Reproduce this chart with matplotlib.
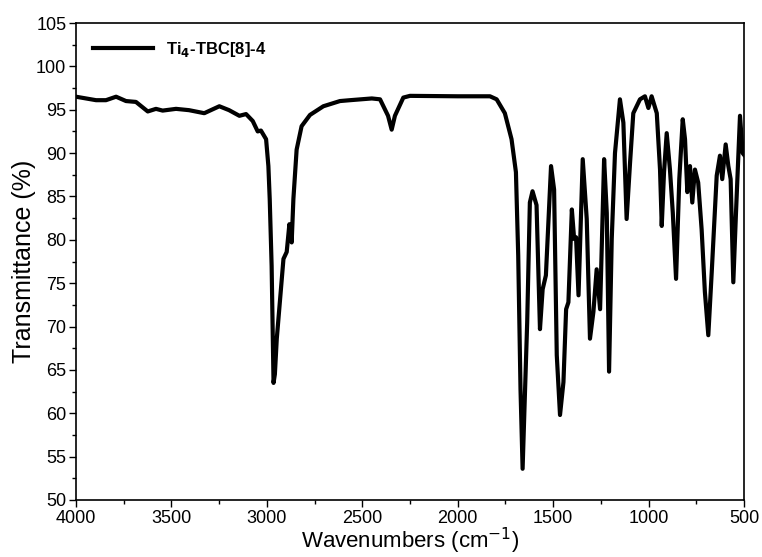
import numpy as np
import matplotlib
matplotlib.use("Agg")
import matplotlib.pyplot as plt

plt.rcParams['font.family'] = ['Liberation Sans', 'DejaVu Sans']

# IR spectrum (wavenumber cm-1, transmittance %)
wavenumber = [4000, 3895, 3843, 3790, 3738, 3686, 3624, 3581, 3546, 3476, 3408,
              3328, 3249, 3198, 3144, 3109, 3074, 3048, 3031, 3004, 2992, 2985,
              2975, 2965, 2958, 2948, 2913, 2896, 2882, 2870, 2861, 2844, 2818,
              2774, 2704, 2617, 2564, 2450, 2407, 2365, 2346, 2329, 2285, 2250,
              2000, 1831, 1796, 1753, 1718, 1695, 1683, 1671, 1660, 1648, 1636,
              1622, 1608, 1587, 1569, 1555, 1538, 1511, 1495, 1481, 1464, 1446,
              1432, 1420, 1402, 1390, 1380, 1367, 1345, 1324, 1307, 1289, 1272,
              1254, 1233, 1219, 1207, 1193, 1176, 1150, 1132, 1115, 1097, 1080,
              1045, 1019, 1001, 984, 957, 940, 931, 919, 905, 888, 873, 856,
              839, 821, 809, 797, 783, 771, 757, 740, 722, 705, 687, 669, 643,
              626, 614, 596, 582, 570, 556, 542, 521, 507, 500]
transmittance = [96.5, 96.1, 96.1, 96.5, 96.0, 95.9, 94.8, 95.1, 94.9, 95.1, 94.95,
                 94.6, 95.4, 94.95, 94.3, 94.5, 93.7, 92.5, 92.6, 91.6, 88.5, 84.7,
                 77.0, 63.5, 64.5, 68.6, 77.8, 78.6, 81.8, 79.7, 84.7, 90.4, 93.1,
                 94.4, 95.4, 96.0, 96.1, 96.3, 96.2, 94.3, 92.7, 94.3, 96.4, 96.6,
                 96.55, 96.55, 96.2, 94.6, 91.6, 87.8, 78.2, 62.8, 53.6, 62.1, 70.5,
                 84.3, 85.6, 84.0, 69.7, 74.3, 75.9, 88.5, 85.8, 66.7, 59.8, 63.6,
                 72.0, 72.8, 83.5, 80.1, 80.3, 73.6, 89.3, 82.4, 68.6, 71.7, 76.6,
                 72.0, 89.3, 83.1, 64.8, 80.1, 90.0, 96.2, 93.5, 82.4, 88.9, 94.6,
                 96.2, 96.55, 95.2, 96.55, 94.6, 88.1, 81.6, 87.8, 92.3, 88.1, 83.1, 75.5,
                 87.0, 93.9, 91.6, 85.5, 88.5, 84.3, 88.1, 86.6, 81.2, 74.0, 69.0, 76.3, 87.4,
                 89.7, 87.0, 91.0, 88.5, 87.0, 75.1, 83.1, 94.3, 90.0, 89.8]

fig = plt.figure(figsize=(7.62, 5.57), dpi=100)
ax = fig.add_axes([76 / 762, 1 - 500 / 557, 668 / 762, 477 / 557])

ax.plot(wavenumber, transmittance, color='black', lw=3.0, solid_joinstyle='round',
        label='Ti$_{\\mathbf{4}}$-TBC[8]-4')

ax.set_xlim(4000, 500)
ax.set_ylim(50, 105)
ax.set_xticks(np.arange(4000, 499, -500))
ax.set_xticks(np.arange(3750, 500, -500), minor=True)
ax.set_yticks(np.arange(50, 106, 5))
ax.set_yticks(np.arange(52.5, 105, 5), minor=True)
ax.tick_params(which='major', direction='out', length=5, width=1, labelsize=13,
               top=False, right=False, pad=2)
ax.tick_params(which='minor', direction='out', length=3, width=1, top=False, right=False)
for s in ax.spines.values():
    s.set_linewidth(1.2)

ax.set_xlabel('Wavenumbers (cm$^{-1}$)', fontsize=16, labelpad=-1)
ax.set_ylabel('Transmittance (%)', fontsize=18, labelpad=0)

leg = ax.legend(loc='upper left', frameon=False, handlelength=3.6,
                prop={'weight': 'bold', 'size': 12}, borderaxespad=0.6)

fig.savefig('out.png', dpi=100)
